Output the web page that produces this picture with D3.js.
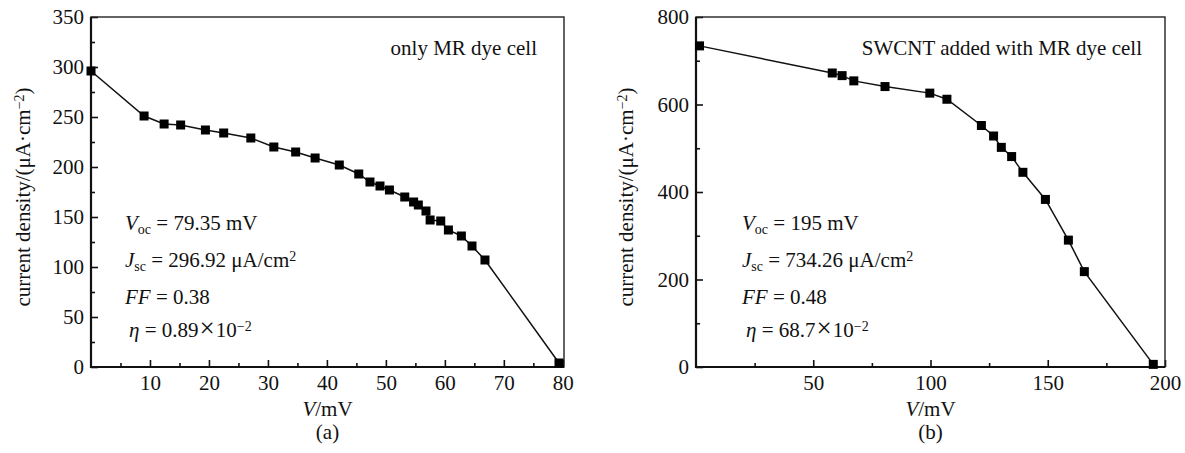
<!DOCTYPE html>
<html>
<head>
<meta charset="utf-8">
<script src="https://cdn.jsdelivr.net/npm/d3@7"></script>
<style>
  body { margin: 0; background: #fff; }
  text { font-family: "Liberation Serif", "Times New Roman", serif; fill: #111; }
</style>
</head>
<body>
<div id="chart"></div>
<script>
// panel (a): only MR dye cell
const voltA = [0, 9.0, 12.4, 15.2, 19.4, 22.5, 27.1, 31.0, 34.7, 38.0, 42.1, 45.4, 47.3, 49.0, 50.6,
  53.2, 54.7, 55.5, 56.8, 57.5, 59.3, 60.6, 62.8, 64.6, 66.8, 79.35]
const currA = [296, 251, 243, 242, 237, 234, 229, 220, 215, 209, 202, 193, 185, 181, 177,
  170, 165, 162, 156, 147, 146, 137, 131, 121, 107, 4]

// panel (b): SWCNT added with MR dye cell
const voltB = [1.5, 58.1, 62.3, 67.3, 80.6, 99.7, 107, 121.7, 126.9, 130.2, 134.6, 139.4, 149.0, 158.8, 165.6, 195]
const currB = [734, 672, 666, 654, 641, 626, 612, 552, 528, 502, 481, 445, 383, 290, 218, 6]

const ticksXA = [10, 20, 30, 40, 50, 60, 70, 80]
const minorXA = [5, 15, 25, 35, 45, 55, 65, 75]
const ticksYA = [0, 50, 100, 150, 200, 250, 300, 350]
const minorYA = [25, 75, 125, 175, 225, 275, 325]
const ticksXB = [50, 100, 150, 200]
const minorXB = [25, 75, 125, 175]
const ticksYB = [0, 200, 400, 600, 800]
const minorYB = [100, 300, 500, 700]

var svg = d3.select("#chart").append("svg")
  .attr("width", 1185)
  .attr("height", 453)

function drawPanel(opt) {
  var g = svg.append("g").attr("transform", "translate(" + opt.left + "," + opt.top + ")")
  var w = opt.width, h = opt.height

  var x = d3.scaleLinear().domain(opt.xDomain).range([0, w])
  var y = d3.scaleLinear().domain(opt.yDomain).range([h, 0])

  // axes, ticks pointing inward
  g.append("g").attr("transform", "translate(0," + h + ")")
    .call(d3.axisBottom(x).tickValues(opt.xTicks).tickSize(-7).tickPadding(8))
    .call(a => a.select(".domain").remove())
  g.append("g").attr("transform", "translate(0," + h + ")")
    .call(d3.axisBottom(x).tickValues(opt.xMinor).tickSize(-4).tickFormat(""))
    .call(a => a.select(".domain").remove())
  g.append("g")
    .call(d3.axisLeft(y).tickValues(opt.yTicks).tickSize(-7).tickPadding(7))
    .call(a => a.select(".domain").remove())
  g.append("g")
    .call(d3.axisLeft(y).tickValues(opt.yMinor).tickSize(-4).tickFormat(""))
    .call(a => a.select(".domain").remove())

  g.selectAll(".tick line").attr("stroke", "#111").attr("stroke-width", 1.6)
  g.selectAll(".tick text")
    .attr("font-family", "Liberation Serif, serif")
    .attr("font-size", "21px")
    .attr("fill", "#111")

  // frame
  g.append("rect")
    .attr("width", w).attr("height", h)
    .attr("fill", "none").attr("stroke", "#222").attr("stroke-width", 1.4)
  g.append("path")
    .attr("d", "M0,0V" + h + "H" + w)
    .attr("fill", "none").attr("stroke", "#111").attr("stroke-width", 2.2)

  var pts = opt.vx.map((v, i) => [v, opt.vy[i]])

  g.append("path")
    .datum(pts)
    .attr("fill", "none")
    .attr("stroke", "#111")
    .attr("stroke-width", 1.5)
    .attr("d", d3.line().x(d => x(d[0])).y(d => y(d[1])))

  g.selectAll("rect.pt")
    .data(pts)
    .enter().append("rect")
    .attr("class", "pt")
    .attr("x", d => x(d[0]) - 4.5)
    .attr("y", d => y(d[1]) - 4.5)
    .attr("width", 9).attr("height", 9)
    .attr("fill", "#000")

  // title in corner
  g.append("text")
    .attr("x", opt.titleX).attr("y", 38)
    .attr("text-anchor", "end")
    .attr("font-size", "21px")
    .text(opt.title)

  // axis labels
  var xl = g.append("text")
    .attr("x", w / 2).attr("y", h + 49)
    .attr("text-anchor", "middle")
    .attr("font-size", "21px")
  xl.append("tspan").attr("font-style", "italic").text("V")
  xl.append("tspan").text("/mV")

  g.append("text")
    .attr("x", w / 2).attr("y", h + 72)
    .attr("text-anchor", "middle")
    .attr("font-size", "21px")
    .text(opt.tag)

  var yl = g.append("text")
    .attr("transform", "translate(" + opt.yLabelX + "," + (h / 2 + 5) + ") rotate(-90)")
    .attr("text-anchor", "middle")
    .attr("font-size", "21px")
  yl.append("tspan").text("current density/(\u03bcA\u00b7cm")
  yl.append("tspan").attr("dy", "-0.45em").attr("font-size", "14px").text("\u22122")
  yl.append("tspan").attr("dy", "0.3em").text(")")

  // parameter block
  var lines = g.append("g").attr("transform", "translate(" + opt.noteX + ",0)")
  var l1 = lines.append("text").attr("y", 213).attr("font-size", "21px")
  l1.append("tspan").attr("font-style", "italic").text("V")
  l1.append("tspan").attr("dy", "0.3em").attr("font-size", "14px").text("oc")
  l1.append("tspan").attr("dy", "-0.2em").text(" = " + opt.voc)

  var l2 = lines.append("text").attr("y", 250).attr("font-size", "21px")
  l2.append("tspan").attr("font-style", "italic").text("J")
  l2.append("tspan").attr("dy", "0.3em").attr("font-size", "14px").text("sc")
  l2.append("tspan").attr("dy", "-0.2em").text(" = " + opt.jsc + " \u03bcA/cm")
  l2.append("tspan").attr("dy", "-0.45em").attr("font-size", "14px").text("2")

  var l3 = lines.append("text").attr("y", 287).attr("font-size", "21px")
  l3.append("tspan").attr("font-style", "italic").text("FF")
  l3.append("tspan").text(" = " + opt.ff)

  var l4 = lines.append("text").attr("x", 4).attr("y", 320).attr("font-size", "21px")
  l4.append("tspan").attr("font-style", "italic").text("\u03b7")
  l4.append("tspan").text(" = " + opt.eta)
  l4.append("tspan").attr("font-size", "27px").attr("dx", 1).text("\u00d7")
  l4.append("tspan").attr("dx", 1).text("10")
  l4.append("tspan").attr("dy", "-0.45em").attr("font-size", "14px").text("\u22122")
}

drawPanel({
  left: 91, top: 17, width: 473, height: 350,
  xDomain: [0, 80.2], yDomain: [0, 350],
  xTicks: ticksXA, xMinor: minorXA, yTicks: ticksYA, yMinor: minorYA,
  vx: voltA, vy: currA,
  title: "only MR dye cell", titleX: 446, tag: "(a)", yLabelX: -61,
  noteX: 34, voc: "79.35 mV", jsc: "296.92", ff: "0.38", eta: "0.89"
})

drawPanel({
  left: 696, top: 17, width: 469, height: 350,
  xDomain: [0, 200], yDomain: [0, 800],
  xTicks: ticksXB, xMinor: minorXB, yTicks: ticksYB, yMinor: minorYB,
  vx: voltB, vy: currB,
  title: "SWCNT added with MR dye cell", titleX: 446, tag: "(b)", yLabelX: -63,
  noteX: 46, voc: "195 mV", jsc: "734.26", ff: "0.48", eta: "68.7"
})
</script>
</body>
</html>
